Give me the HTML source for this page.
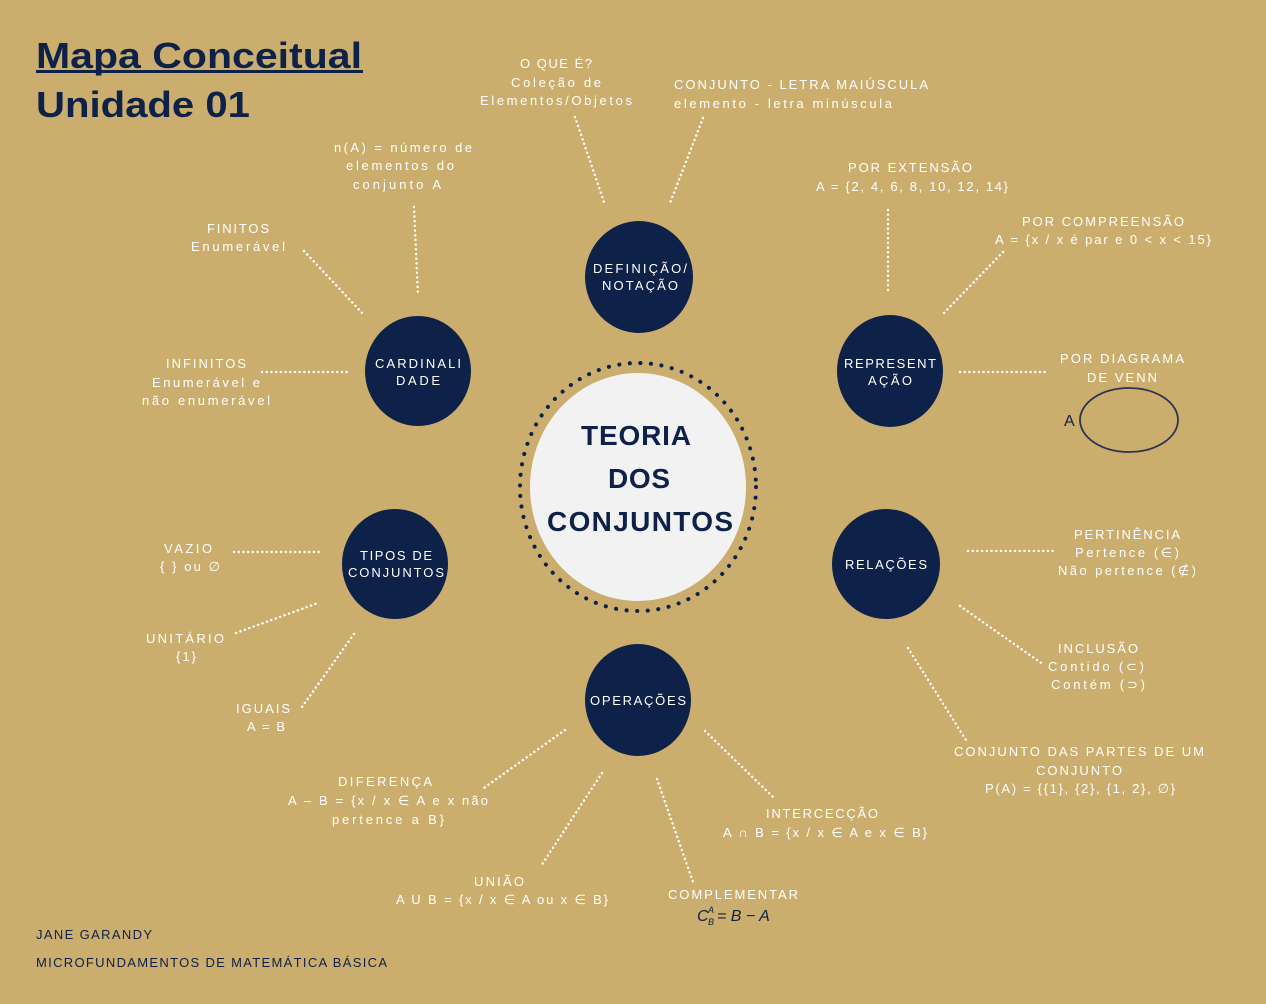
<!DOCTYPE html>
<html><head><meta charset="utf-8"><style>
html,body{margin:0;padding:0;background:#CBAE6D;}
svg{display:block;font-family:"Liberation Sans",sans-serif;}
.w{fill:#fff;font-size:13px;text-anchor:middle;}
.wl{fill:#fff;font-size:13px;}
.n{fill:#fff;font-size:13px;text-anchor:middle;}
.d{stroke:#fff;stroke-width:2.4;stroke-dasharray:0.1 4.6;stroke-linecap:round;fill:none;}
</style></head><body>
<svg width="1266" height="1004" viewBox="0 0 1266 1004" xmlns="http://www.w3.org/2000/svg" lengthAdjust="spacing">
<rect width="1266" height="1004" fill="#CBAE6D"/>
<text x="36" y="68" font-size="36" font-weight="bold" fill="#0E2149" textLength="326" lengthAdjust="spacingAndGlyphs">Mapa Conceitual</text>
<rect x="36" y="70" width="327" height="3" fill="#0E2149"/>
<text x="36" y="117" font-size="36" font-weight="bold" fill="#0E2149" textLength="214" lengthAdjust="spacingAndGlyphs">Unidade 01</text>
<g class="d">
<line x1="575" y1="117" x2="604" y2="202"/>
<line x1="703" y1="118" x2="670" y2="203"/>
<line x1="414" y1="207" x2="418" y2="296"/>
<line x1="304" y1="251" x2="364" y2="315"/>
<line x1="262" y1="372" x2="348" y2="372"/>
<line x1="888" y1="210" x2="888" y2="292"/>
<line x1="1003" y1="252" x2="942" y2="315"/>
<line x1="960" y1="372" x2="1046" y2="372"/>
<line x1="234" y1="552" x2="320" y2="552"/>
<line x1="968" y1="551" x2="1054" y2="551"/>
<line x1="236" y1="633" x2="318" y2="603"/>
<line x1="354" y1="634" x2="302" y2="707"/>
<line x1="960" y1="606" x2="1044" y2="665"/>
<line x1="908" y1="648" x2="966" y2="740"/>
<line x1="565" y1="730" x2="481" y2="790"/>
<line x1="602" y1="773" x2="541" y2="866"/>
<line x1="657" y1="779" x2="693" y2="882"/>
<line x1="705" y1="731" x2="773" y2="797"/>
</g>
<ellipse cx="638" cy="487" rx="118" ry="124" fill="none" stroke="#0E2149" stroke-width="4" stroke-dasharray="0.1 10.5" stroke-linecap="round"/>
<ellipse cx="638" cy="487" rx="108" ry="114" fill="#F2F2F2"/>
<g font-weight="bold" fill="#0E2149" font-size="28" text-anchor="middle">
<text x="636" y="445" textLength="110">TEORIA</text>
<text x="639" y="488" textLength="62">DOS</text>
<text x="640" y="531" textLength="186">CONJUNTOS</text>
</g>
<g fill="#0E2149">
<ellipse cx="639" cy="277" rx="54" ry="56"/>
<ellipse cx="418" cy="371" rx="53" ry="55"/>
<ellipse cx="890" cy="371" rx="53" ry="56"/>
<ellipse cx="395" cy="564" rx="53" ry="55"/>
<ellipse cx="886" cy="564" rx="54" ry="55"/>
<ellipse cx="638" cy="700" rx="53" ry="56"/>
</g>
<g class="n">
<text x="640" y="273" textLength="94">DEFINIÇÃO/</text>
<text x="640" y="290" textLength="76">NOTAÇÃO</text>
<text x="418" y="368" textLength="86">CARDINALI</text>
<text x="418" y="385" textLength="44">DADE</text>
<text x="890" y="368" textLength="92">REPRESENT</text>
<text x="890" y="385" textLength="44">AÇÃO</text>
<text x="396" y="560" textLength="72">TIPOS DE</text>
<text x="396" y="577" textLength="96">CONJUNTOS</text>
<text x="886" y="569" textLength="82">RELAÇÕES</text>
<text x="638" y="705" textLength="96">OPERAÇÕES</text>
</g>
<g class="w">
<text x="556" y="68" textLength="72">O QUE É?</text>
<text x="556" y="87" textLength="90">Coleção de</text>
<text x="556" y="105" textLength="152">Elementos/Objetos</text>
<text x="403" y="152" textLength="138">n(A) = número de</text>
<text x="400" y="170" textLength="108">elementos do</text>
<text x="397" y="189" textLength="88">conjunto A</text>
<text x="238" y="233" textLength="62">FINITOS</text>
<text x="238" y="251" textLength="94">Enumerável</text>
<text x="206" y="368" textLength="80">INFINITOS</text>
<text x="206" y="387" textLength="108">Enumerável e</text>
<text x="206" y="405" textLength="128">não enumerável</text>
<text x="910" y="172" textLength="124">POR EXTENSÃO</text>
<text x="912" y="191" textLength="192">A = {2, 4, 6, 8, 10, 12, 14}</text>
<text x="1103" y="226" textLength="162">POR COMPREENSÃO</text>
<text x="1103" y="244" textLength="216">A = {x / x é par e 0 &lt; x &lt; 15}</text>
<text x="1122" y="363" textLength="124">POR DIAGRAMA</text>
<text x="1122" y="382" textLength="70">DE VENN</text>
<text x="188" y="553" textLength="48">VAZIO</text>
<text x="190" y="571" textLength="60">{ } ou ∅</text>
<text x="185" y="643" textLength="78">UNITÁRIO</text>
<text x="186" y="661" textLength="20">{1}</text>
<text x="263" y="713" textLength="54">IGUAIS</text>
<text x="266" y="731" textLength="38">A = B</text>
<text x="1127" y="539" textLength="106">PERTINÊNCIA</text>
<text x="1127" y="557" textLength="104">Pertence (∈)</text>
<text x="1127" y="575" textLength="138">Não pertence (∉)</text>
<text x="1098" y="653" textLength="80">INCLUSÃO</text>
<text x="1096" y="671" textLength="96">Contido (⊂)</text>
<text x="1098" y="689" textLength="94">Contém (⊃)</text>
<text x="1079" y="756" textLength="250">CONJUNTO DAS PARTES DE UM</text>
<text x="1079" y="775" textLength="86">CONJUNTO</text>
<text x="1080" y="793" textLength="190">P(A) = {{1}, {2}, {1, 2}, ∅}</text>
<text x="385" y="786" textLength="94">DIFERENÇA</text>
<text x="388" y="805" textLength="200">A – B = {x / x ∈ A e x não</text>
<text x="388" y="824" textLength="112">pertence a B}</text>
<text x="822" y="818" textLength="112">INTERCECÇÃO</text>
<text x="825" y="837" textLength="204">A ∩ B = {x / x ∈ A e x ∈ B}</text>
<text x="499" y="886" textLength="50">UNIÃO</text>
<text x="502" y="904" textLength="212">A U B = {x / x ∈ A ou x ∈ B}</text>
<text x="733" y="899" textLength="130">COMPLEMENTAR</text>
</g>
<g class="wl">
<text x="674" y="89" textLength="254">CONJUNTO - LETRA MAIÚSCULA</text>
<text x="674" y="108" textLength="218">elemento - letra minúscula</text>
</g>
<ellipse cx="1129" cy="420" rx="49" ry="32" fill="none" stroke="#2a3550" stroke-width="1.8"/>
<text x="1064" y="426" font-size="16" fill="#0E2149">A</text>
<g font-style="italic" fill="#0E2149" font-size="16">
<text x="697" y="921">C</text>
<text x="708" y="913" font-size="9">A</text>
<text x="708" y="925" font-size="9">B</text>
<text x="717" y="921">= B − A</text>
</g>
<text x="36" y="939" font-size="13" fill="#0E2149" textLength="116">JANE GARANDY</text>
<text x="36" y="967" font-size="13" fill="#0E2149" textLength="351">MICROFUNDAMENTOS DE MATEMÁTICA BÁSICA</text>
</svg>
</body></html>
